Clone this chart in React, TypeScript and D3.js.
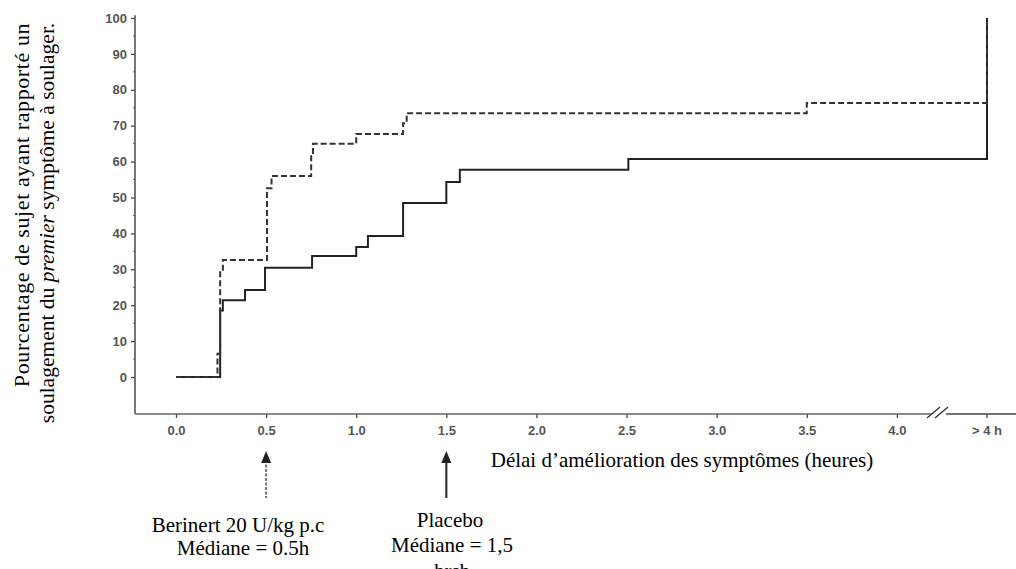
import { useEffect, useRef } from "react";
import * as d3 from "d3";

// Berinert 20 U/kg (dashed curve)
const berinertTimes = [0, 0.23, 0.245, 0.26, 0.505, 0.53, 0.75, 0.76, 1.0, 1.26, 1.28, 3.5, 4.5];
const berinertPct = [0, 6.5, 29.5, 32.6, 52.6, 56, 61.8, 65, 67.7, 70.7, 73.5, 76.3, 100];

// Placebo (solid curve)
const placeboTimes = [0, 0.245, 0.26, 0.383, 0.494, 0.755, 1.0, 1.065, 1.26, 1.5, 1.575, 2.51, 4.5];
const placeboPct = [0, 18.5, 21.4, 24.2, 30.4, 33.7, 36.2, 39.3, 48.5, 54.3, 57.7, 60.7, 100];

const xTicks = [0, 0.5, 1.0, 1.5, 2.0, 2.5, 3.0, 3.5, 4.0];
const beyondTick = 4.5;
const beyondLabel = "> 4 h";
const yTicks = [0, 10, 20, 30, 40, 50, 60, 70, 80, 90, 100];
const yMinorTicks = [5, 15, 25, 35, 45, 55, 65, 75, 85, 95];

const yTitle1 = "Pourcentage de sujet ayant rapporté un";
const xTitle = "Délai d’amélioration des symptômes (heures)";

const serif = "'Liberation Serif', 'Times New Roman', serif";
const sans = "'Liberation Sans', Arial, sans-serif";

export default function App() {
  const ref = useRef<SVGSVGElement | null>(null);

  useEffect(() => {
    const svg = d3.select(ref.current);
    svg.selectAll("*").remove();

    const x = d3.scaleLinear().domain([0, 4.5]).range([176, 987]);
    const y = d3.scaleLinear().domain([0, 100]).range([377, 18]);
    const axisY = 414;
    const axisX = 135;

    // y axis
    const yAxis = d3.axisLeft(y).tickValues(yTicks).tickSize(4).tickSizeOuter(0).tickFormat(d3.format("d"));
    const gy = svg.append("g").attr("transform", `translate(${axisX},0)`).call(yAxis);
    gy.select(".domain").remove();
    gy.selectAll("line").attr("stroke", "#444").attr("stroke-width", 1.3);
    gy.selectAll("text")
      .attr("font-family", sans)
      .attr("font-size", 13)
      .attr("font-weight", "bold")
      .attr("fill", "#555")
      .attr("x", -8);
    gy.selectAll(".minor")
      .data(yMinorTicks)
      .enter()
      .append("line")
      .attr("x1", 0)
      .attr("x2", -2)
      .attr("y1", (d) => y(d))
      .attr("y2", (d) => y(d))
      .attr("stroke", "#666")
      .attr("stroke-width", 1);
    svg.append("line")
      .attr("x1", axisX).attr("x2", axisX)
      .attr("y1", y(100.8)).attr("y2", axisY)
      .attr("stroke", "#555").attr("stroke-width", 1.6);

    // x axis
    const xAxis = d3.axisBottom(x).tickValues(xTicks).tickSize(4).tickSizeOuter(0).tickFormat(d3.format(".1f"));
    const gx = svg.append("g").attr("transform", `translate(0,${axisY})`).call(xAxis);
    gx.select(".domain").remove();
    gx.selectAll("line").attr("stroke", "#444").attr("stroke-width", 1.3);
    gx.selectAll("text")
      .attr("font-family", sans)
      .attr("font-size", 13)
      .attr("font-weight", "bold")
      .attr("fill", "#555")
      .attr("y", 12);
    const gb = svg.append("g").attr("transform", `translate(${x(beyondTick)},${axisY})`);
    gb.append("line").attr("y2", 4).attr("stroke", "#444").attr("stroke-width", 1.3);
    gb.append("text")
      .attr("y", 21)
      .attr("text-anchor", "middle")
      .attr("font-family", sans)
      .attr("font-size", 13)
      .attr("font-weight", "bold")
      .attr("fill", "#555")
      .text(beyondLabel);

    // axis line with break
    svg.append("line")
      .attr("x1", axisX).attr("x2", 931)
      .attr("y1", axisY).attr("y2", axisY)
      .attr("stroke", "#666").attr("stroke-width", 1.6);
    svg.append("line")
      .attr("x1", 946).attr("x2", 1016)
      .attr("y1", axisY).attr("y2", axisY)
      .attr("stroke", "#444").attr("stroke-width", 1.6);
    [0, 8].forEach((dx) => {
      svg.append("line")
        .attr("x1", 927 + dx).attr("y1", axisY + 4)
        .attr("x2", 940 + dx).attr("y2", axisY - 7)
        .attr("stroke", "#333").attr("stroke-width", 1.4);
    });

    // curves
    const line = d3.line<[number, number]>()
      .x((d) => x(d[0]))
      .y((d) => y(d[1]))
      .curve(d3.curveStepAfter);

    svg.append("path")
      .datum(placeboTimes.map((t, i) => [t, placeboPct[i]] as [number, number]))
      .attr("fill", "none")
      .attr("stroke", "#222")
      .attr("stroke-width", 2)
      .attr("d", line);

    svg.append("path")
      .datum(berinertTimes.map((t, i) => [t, berinertPct[i]] as [number, number]))
      .attr("fill", "none")
      .attr("stroke", "#333")
      .attr("stroke-width", 2)
      .attr("stroke-dasharray", "6,3")
      .attr("d", line);

    // titles
    svg.append("text")
      .attr("transform", "translate(29,205) rotate(-90)")
      .attr("text-anchor", "middle")
      .attr("font-family", serif)
      .attr("font-size", 22)
      .attr("letter-spacing", 0.6)
      .text(yTitle1);
    const t2 = svg.append("text")
      .attr("transform", "translate(54,223) rotate(-90)")
      .attr("text-anchor", "middle")
      .attr("font-family", serif)
      .attr("font-size", 21.5);
    t2.append("tspan").text("soulagement du ");
    t2.append("tspan").attr("font-style", "italic").text("premier");
    t2.append("tspan").text(" symptôme à soulager.");

    svg.append("text")
      .attr("x", 682).attr("y", 467)
      .attr("text-anchor", "middle")
      .attr("font-family", serif)
      .attr("font-size", 21)
      .text(xTitle);

    // median annotations
    const arrow = (t: number, color: string, dash: string | null) => {
      const ax = x(t);
      svg.append("line")
        .attr("x1", ax).attr("x2", ax)
        .attr("y1", 460).attr("y2", 498)
        .attr("stroke", color).attr("stroke-width", 2)
        .attr("stroke-dasharray", dash);
      svg.append("path")
        .attr("d", `M${ax},451 L${ax - 5},463 L${ax + 5},463 Z`)
        .attr("fill", "#222");
    };
    arrow(0.5, "#777", "3,1.5");
    arrow(1.5, "#222", null);

    const note = (cx: number, yy: number, s: string) =>
      svg.append("text")
        .attr("x", cx).attr("y", yy)
        .attr("text-anchor", "middle")
        .attr("font-family", serif)
        .attr("font-size", 21)
        .text(s);
    note(238, 532, "Berinert 20 U/kg  p.c");
    note(243, 555, "Médiane = 0.5h");
    note(450, 527, "Placebo");
    note(452, 552, "Médiane = 1,5");
    note(452, 578, "hrsh");
  }, []);

  return (
    <svg
      ref={ref}
      width={1016}
      height={569}
      style={{ position: "absolute", left: 0, top: 0, background: "#fff" }}
    />
  );
}
